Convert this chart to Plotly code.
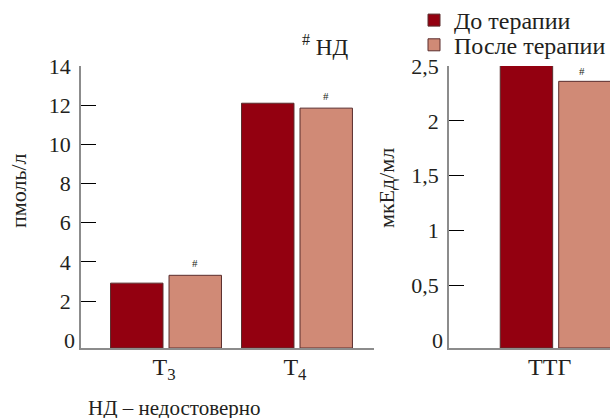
import plotly.graph_objects as go

# ---------------- data ----------------
CATS_LEFT = ["T<sub>3</sub>", "T<sub>4</sub>"]
CATS_RIGHT = ["ТТГ"]
SERIES = ["До терапии", "После терапии"]
BEFORE_LEFT = [2.92, 12.1]
AFTER_LEFT = [3.32, 11.85]
BEFORE_RIGHT = [2.52]
AFTER_RIGHT = [2.36]
MARK_AFTER_LEFT = ["#", "#"]
MARK_AFTER_RIGHT = ["#"]
Y_LEFT_TICKS = [0, 2, 4, 6, 8, 10, 12, 14]
Y_LEFT_LABELS = ["0", "2", "4", "6", "8", "10", "12", "14"]
Y_RIGHT_TICKS = [0, 0.5, 1, 1.5, 2, 2.5]
Y_RIGHT_LABELS = ["0", "0,5", "1", "1,5", "2", "2,5"]
Y_LEFT_TITLE = "пмоль/л"
Y_RIGHT_TITLE = "мкЕд/мл"
NOTE = "НД – недостоверно"
NOTE_KEY = "НД"

# ---------------- style ----------------
W, H = 610, 418
FONT = "Liberation Serif"
TXT = "#231f20"
C_BEFORE = "#930010"
C_AFTER = "#d08a76"
OUTLINE = "#5a2d2d"
AXIS_C = "#8c8c8c"
YL_RANGE = [-0.39, 14.0]
YR_RANGE = [-0.073, 2.5]
XL_RANGE = [-0.649, 1.588]
XR_RANGE = [-0.815, 0.415]
XL_DOM = [81 / W, 374 / W]
XR_DOM = [449 / W, 1.0]
FS = 22

fig = go.Figure()

def add_bars(cats, vals, name, color, xa, ya, base, show, legend):
    fig.add_trace(go.Bar(
        x=cats, y=[v - base for v in vals], base=base, name=name,
        marker=dict(color=color, line=dict(color=OUTLINE, width=1)),
        xaxis=xa, yaxis=ya, showlegend=show, legendgroup=name, legend=legend,
    ))

add_bars(CATS_LEFT, BEFORE_LEFT, SERIES[0], C_BEFORE, "x", "y", YL_RANGE[0], True, "legend")
add_bars(CATS_LEFT, AFTER_LEFT, SERIES[1], C_AFTER, "x", "y", YL_RANGE[0], True, "legend2")
add_bars(CATS_RIGHT, BEFORE_RIGHT, SERIES[0], C_BEFORE, "x2", "y2", YR_RANGE[0], False, "legend")
add_bars(CATS_RIGHT, AFTER_RIGHT, SERIES[1], C_AFTER, "x2", "y2", YR_RANGE[0], False, "legend2")

axis_common = dict(showgrid=False, zeroline=False, showline=True, linecolor=AXIS_C,
                   linewidth=1.5, automargin=False)

yl_ticks = [t for t in Y_LEFT_TICKS if t != 0]
yl_labels = [l for t, l in zip(Y_LEFT_TICKS, Y_LEFT_LABELS) if t != 0]
yr_ticks = [t for t in Y_RIGHT_TICKS if t != 0]
yr_labels = [l for t, l in zip(Y_RIGHT_TICKS, Y_RIGHT_LABELS) if t != 0]

yfont = dict(family=FONT, size=FS, color=TXT)
xfont = dict(family=FONT, size=24, color=TXT)
lfont = dict(family=FONT, size=24, color=TXT)

fig.update_layout(
    width=W, height=H,
    margin=dict(l=0, r=0, t=66, b=70, autoexpand=False),
    paper_bgcolor="white", plot_bgcolor="white",
    barmode="group", bargap=0.107, bargroupgap=0.103,
    font=dict(family=FONT, size=FS, color=TXT),
    xaxis=dict(domain=XL_DOM, range=XL_RANGE, type="category", ticks="",
               ticklabelstandoff=-4, ticklabelshift=-2, tickfont=xfont, **axis_common),
    xaxis2=dict(domain=XR_DOM, range=XR_RANGE, type="category", ticks="",
                ticklabelstandoff=-4, ticklabelshift=-6, tickfont=xfont, anchor="y2",
                **axis_common),
    yaxis=dict(range=YL_RANGE, tickmode="array", tickvals=yl_ticks, ticktext=yl_labels,
               ticks="inside", ticklen=15, tickcolor="black", tickwidth=1.2,
               ticklabelstandoff=4, tickfont=yfont, anchor="x", **axis_common),
    yaxis2=dict(range=YR_RANGE, tickmode="array", tickvals=yr_ticks, ticktext=yr_labels,
                ticks="inside", ticklen=15, tickcolor="black", tickwidth=1.2,
                ticklabelstandoff=4, tickfont=yfont, anchor="x2", **axis_common),
    legend=dict(x=414 / W, xanchor="left", y=(348 - 20.5) / 282, yanchor="middle",
                font=lfont, bgcolor="rgba(0,0,0,0)"),
    legend2=dict(x=414 / W, xanchor="left", y=(348 - 45.2) / 282, yanchor="middle",
                 font=lfont, bgcolor="rgba(0,0,0,0)"),
)

ann = []
# zero labels (no tick mark at zero in the original)
ann.append(dict(text=Y_LEFT_LABELS[0], x=XL_DOM[0], xref="paper", y=0, yref="y",
                xanchor="right", xshift=-4, showarrow=False, font=yfont))
ann.append(dict(text=Y_RIGHT_LABELS[0], x=XR_DOM[0], xref="paper", y=0, yref="y2",
                xanchor="right", xshift=-4, showarrow=False, font=yfont))
# axis titles
ann.append(dict(text=Y_LEFT_TITLE, x=18 / W, xref="paper", y=(348 - 191) / 282, yref="paper",
                textangle=-90, showarrow=False, xanchor="center", yanchor="middle",
                font=dict(family=FONT, size=FS, color=TXT)))
ann.append(dict(text=Y_RIGHT_TITLE, x=386 / W, xref="paper", y=(348 - 188) / 282, yref="paper",
                textangle=-90, showarrow=False, xanchor="center", yanchor="middle",
                font=dict(family=FONT, size=FS, color=TXT)))
# significance marks
for c, v, m in zip(CATS_LEFT, AFTER_LEFT, MARK_AFTER_LEFT):
    ann.append(dict(text=m, x=c, xref="x", y=v, yref="y", yanchor="bottom", xshift=29,
                    yshift=4, showarrow=False, font=dict(family=FONT, size=11, color=TXT)))
for c, v, m in zip(CATS_RIGHT, AFTER_RIGHT, MARK_AFTER_RIGHT):
    ann.append(dict(text=m, x=c, xref="x2", y=v, yref="y2", yanchor="bottom", xshift=26,
                    yshift=2, showarrow=False, font=dict(family=FONT, size=11, color=TXT)))
# key for mark
ann.append(dict(text="<sup>#</sup> " + NOTE_KEY, x=300 / W, xref="paper", y=(348 - 46) / 282,
                yref="paper", xanchor="left", yanchor="middle", showarrow=False,
                font=dict(family=FONT, size=23, color=TXT)))
# bottom note
ann.append(dict(text=NOTE, x=86 / W, xref="paper", y=(348 - 408) / 282, yref="paper",
                xanchor="left", yanchor="middle", showarrow=False,
                font=dict(family=FONT, size=21, color=TXT)))
fig.update_layout(annotations=ann)

fig.write_html("out.html", config={"displayModeBar": False},
               post_script="document.body.style.margin='0';document.body.style.overflow='hidden';")
